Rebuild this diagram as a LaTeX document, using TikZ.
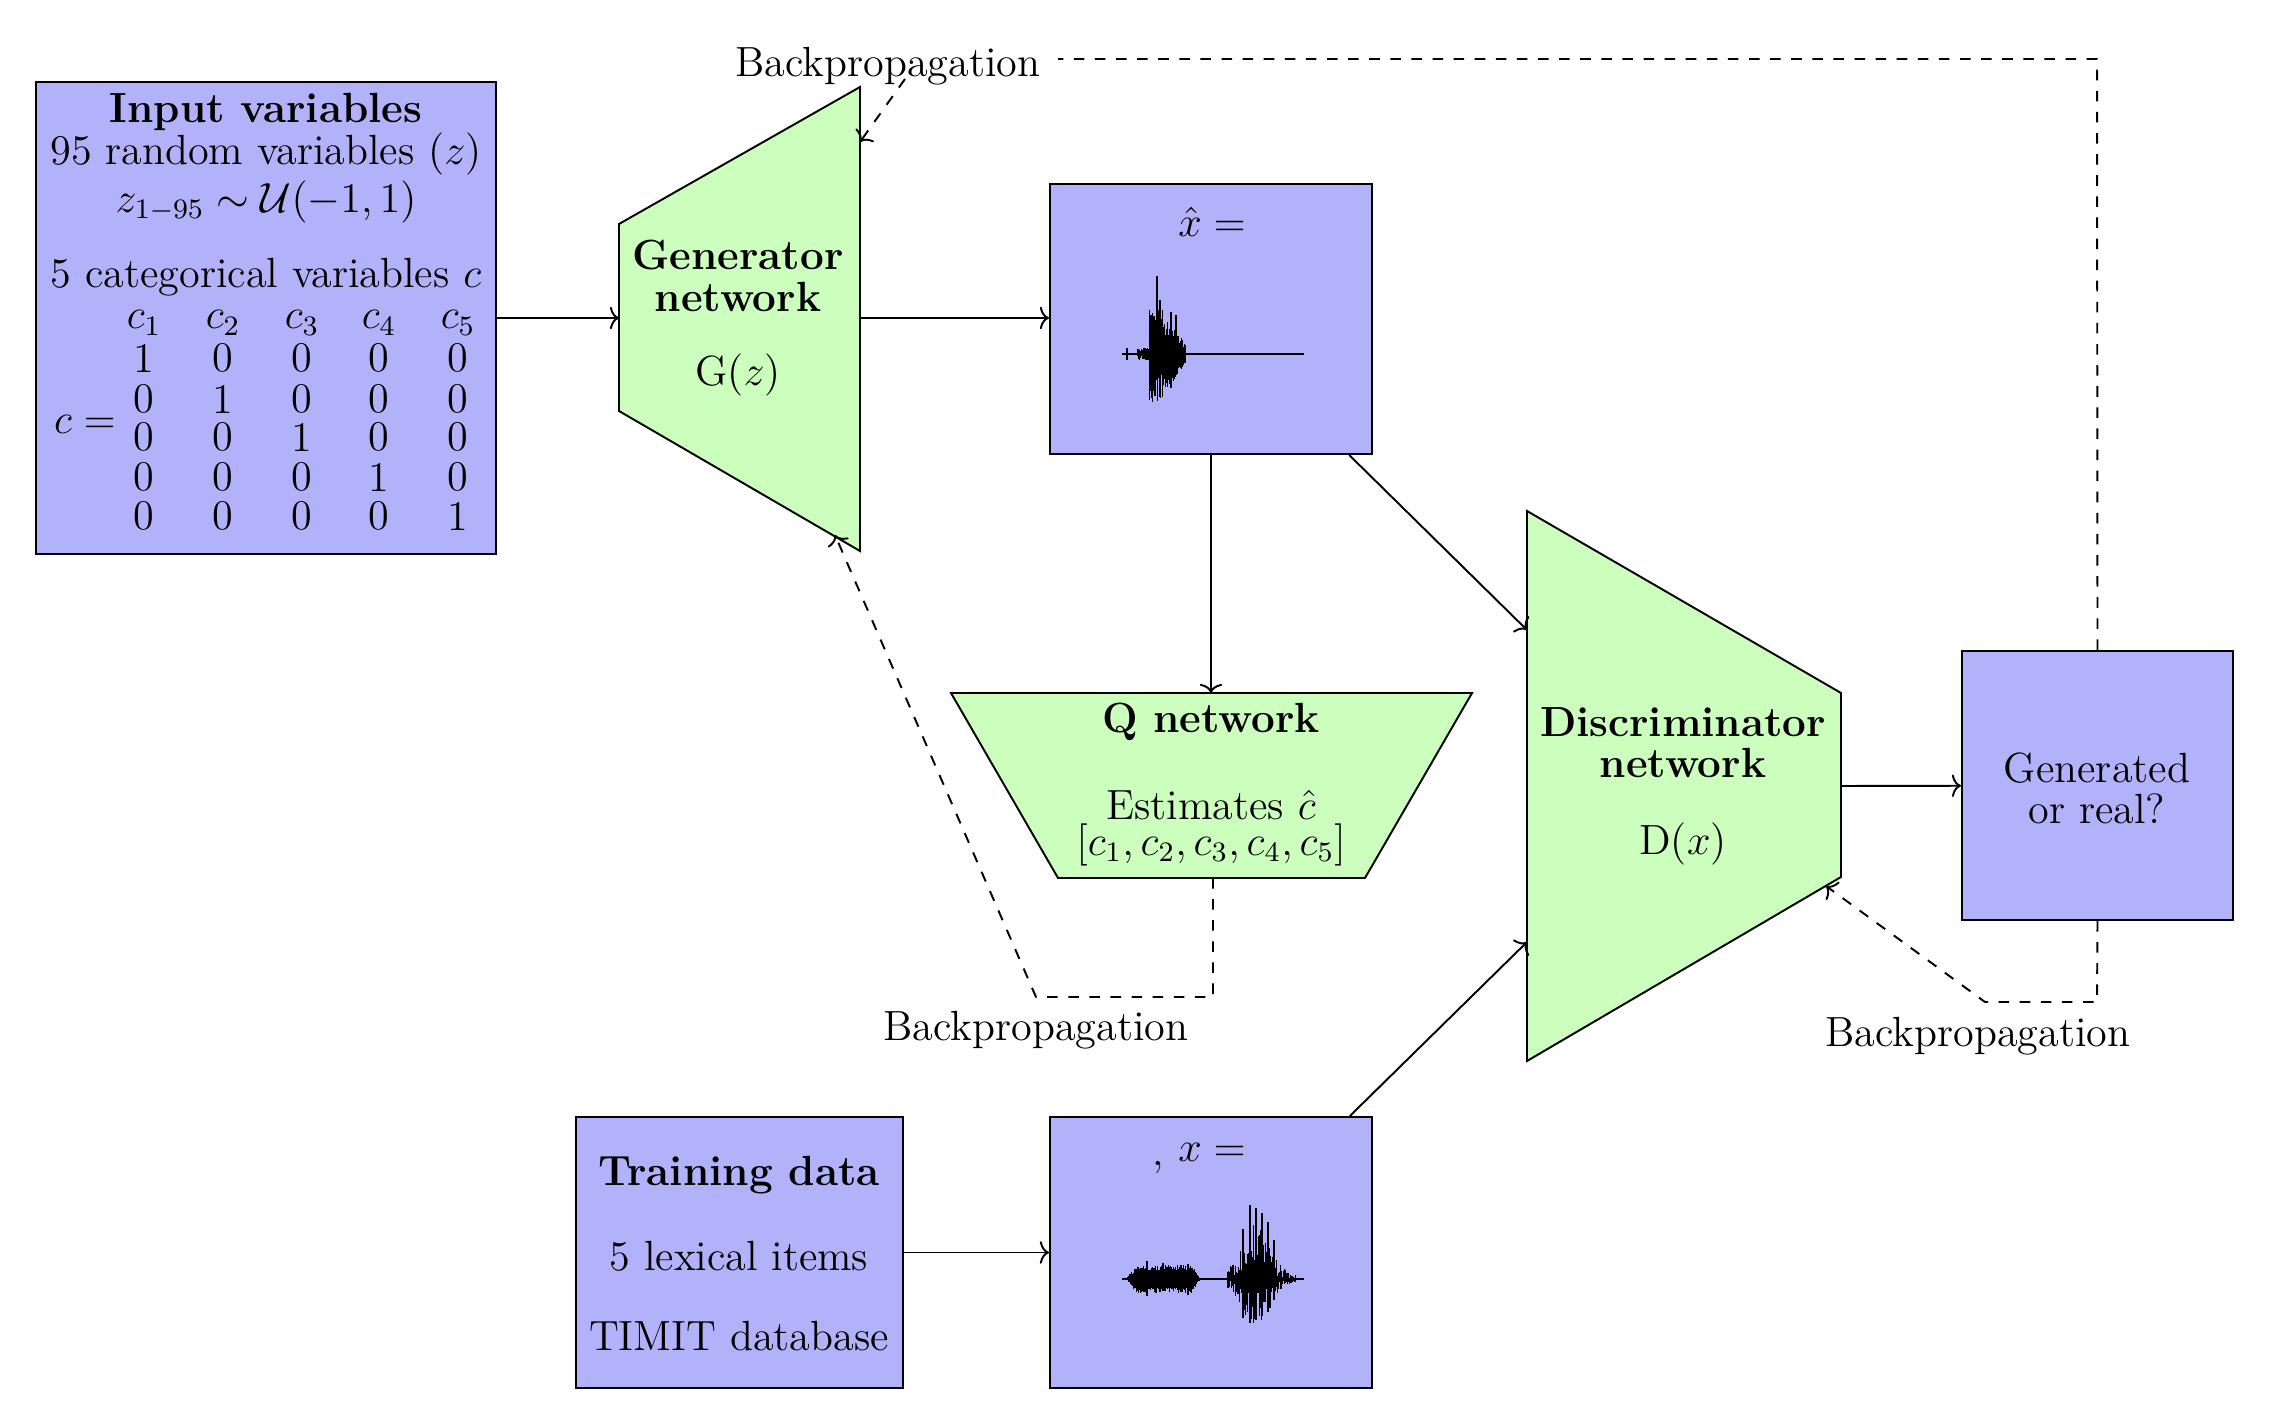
\RequirePackage{fix-cm}
\documentclass[tikz,border=0pt]{standalone}
\usepackage{amsmath}
\usetikzlibrary{arrows.meta}
\definecolor{boxblue}{RGB}{178,178,250}
\definecolor{netgreen}{RGB}{204,255,190}
\begin{document}
\begin{tikzpicture}[x=0.01cm,y=-0.01cm,
  txt/.style={font=\fontsize{12}{14.4}\selectfont, inner sep=0pt},
  btxt/.style={txt, font=\fontsize{12}{14.4}\selectfont\bfseries},
  bx/.style={draw, fill=boxblue, inner sep=0pt, line width=0.55pt},
  net/.style={draw, fill=netgreen, line width=0.55pt},
  conn/.style={-{To[length=2.6pt,width=6.4pt]}, line width=0.55pt},
  bp/.style={dashed, line width=0.55pt},
  bpa/.style={bp, -{To[length=2.6pt,width=6.4pt]}},
  wave/.style={line width=0.3pt}]
\useasboundingbox (0,0) rectangle (2269,1425);

% ---- boxes
\node[bx, minimum width=4.60cm, minimum height=4.72cm] (inp) at (266,318) {};
\node[bx, minimum width=3.22cm, minimum height=2.70cm] (xhat) at (1211,319) {};
\node[bx, minimum width=3.22cm, minimum height=2.71cm] (xreal) at (1211,1252.5) {};
\node[bx, minimum width=3.27cm, minimum height=2.71cm] (train) at (739.5,1252.5) {};
\node[bx, minimum width=2.71cm, minimum height=2.69cm] (gen) at (2097.5,785.5) {};

% ---- networks
\draw[net] (619,224) -- (860,87) -- (860,551) -- (619,411) -- cycle;
\coordinate (Gin) at (619,318);
\coordinate (Gout) at (860,318);
\coordinate (Gbp1) at (860,142);
\coordinate (Gbp2) at (835,535);
\draw[net] (951,693) -- (1472,693) -- (1365,878) -- (1058,878) -- cycle;
\coordinate (Qtop) at (1211,693);
\coordinate (Qbot) at (1213,878);
\draw[net] (1527,511) -- (1841,693) -- (1841,877) -- (1527,1061) -- cycle;
\coordinate (Din1) at (1527,630);
\coordinate (Din2) at (1527,942);
\coordinate (Dout) at (1841,786);
\coordinate (Dbp) at (1826,886);

% ---- input text
\node[btxt] (t1) at (266,112) {Input variables};
\node[txt] (t2) at (266,154) {95 random variables ($z$)};
\node[txt] (t3) at (266,202) {$z_{1-95}\sim\mathcal{U}(-1,1)$};
\node[txt] (t4) at (266,277) {5 categorical variables $c$};
\node[txt] (ceq) at (85,424) {$c=$};
\foreach \j/\cx in {1/144,2/223,3/302,4/379,5/458}{
  \node[txt] (h\j) at (\cx,323) {$c_{\j}$};
}
\foreach \r/\ry in {1/358,2/399,3/437,4/477,5/516}{
  \foreach \j/\cx in {1/144,2/223,3/302,4/379,5/458}{
    \ifnum\r=\j
      \node[txt] (m\r\j) at (\cx,\ry) {1};
    \else
      \node[txt] (m\r\j) at (\cx,\ry) {0};
    \fi
  }
}

% ---- network texts
\node[btxt] (g1) at (738,255) {Generator};
\node[btxt] (g2) at (738,297) {network};
\node[txt] (g3) at (738,375) {G($z$)};
\node[btxt] (q1) at (1211,722) {Q network};
\node[txt] (q2) at (1211,805) {Estimates $\hat{c}$};
\node[txt] (q3) at (1211,845) {$[c_1,c_2,c_3,c_4,c_5]$};
\node[btxt] (d1) at (1683,722) {Discriminator};
\node[btxt] (d2) at (1683,763) {network};
\node[txt] (d3) at (1683,844) {D($x$)};
\node[txt] (o1) at (2097,768) {Generated};
\node[txt] (o2) at (2097,809) {or real?};
\node[btxt] (tr1) at (739,1175) {Training data};
\node[txt] (tr2) at (739,1256) {5 lexical items};
\node[txt] (tr3) at (739,1336) {TIMIT database};
\node[txt] (xl1) at (1212,222) {$\hat{x} =$};
\node[txt] (xl2) at (1212,1152) {$x =$};
\node[txt] (cm) at (1158,1168) {,};

% ---- waveforms
\pgfmathsetseed{7}
\draw[wave] (1122,354) -- (1304,354);
\draw[wave] (1127,348) -- (1127,360);
\foreach \i in {0,...,140}{
  \pgfmathsetmacro\xx{1138+\i*0.34}
  \pgfmathsetmacro\env{(\xx<1149)?6:((\xx<1163)?48:(10+30*(1186-\xx)/23))}
  \pgfmathsetmacro\up{\env*(0.2+0.8*rnd)}
  \pgfmathsetmacro\dn{\env*(0.2+0.8*rnd)}
  \draw[wave] (\xx,354-\up) -- (\xx,354+\dn);
}
\draw[wave] (1157,276) -- (1157,380);
\draw[wave] (1160,300) -- (1160,397);
\draw[wave] (1171,312) -- (1171,388);
\draw[wave] (1176,315) -- (1176,375);

\draw[wave] (1122,1279) -- (1304,1279);
\foreach \i in {0,...,200}{
  \pgfmathsetmacro\xx{1127+\i*0.36}
  \pgfmathsetmacro\env{13*min(1,(\xx-1127)/10)*min(1,(1200-\xx)/8)+1}
  \pgfmathsetmacro\up{\env*(0.4+0.6*rnd)}
  \pgfmathsetmacro\dn{\env*(0.4+0.6*rnd)}
  \draw[wave] (\xx,1279-\up) -- (\xx,1279+\dn);
}
\draw[wave] (1147,1261) -- (1147,1296);
\draw[wave] (1163,1263) -- (1163,1290);
\draw[wave] (1188,1264) -- (1188,1295);
\foreach \i in {0,...,80}{
  \pgfmathsetmacro\xx{1228+\i*0.84}
  \pgfmathsetmacro\env{52*exp(-((\xx-1256)/20)^2)+3}
  \pgfmathsetmacro\up{\env*(0.15+0.85*rnd)}
  \pgfmathsetmacro\dn{0.85*\env*(0.15+0.85*rnd)}
  \draw[wave] (\xx,1279-\up) -- (\xx,1279+\dn);
}
\foreach \i in {0,...,60}{
  \pgfmathsetmacro\xx{1232+\i*0.9}
  \pgfmathsetmacro\env{18*exp(-((\xx-1254)/16)^2)+2}
  \pgfmathsetmacro\up{\env*(0.5+0.5*rnd)}
  \pgfmathsetmacro\dn{\env*(0.5+0.5*rnd)}
  \draw[wave] (\xx,1279-\up) -- (\xx,1279+\dn);
}
\draw[wave] (1243,1229) -- (1243,1318);
\draw[wave] (1250,1205) -- (1250,1323);
\draw[wave] (1256,1208) -- (1256,1320);
\draw[wave] (1262,1213) -- (1262,1316);
\draw[wave] (1268,1222) -- (1268,1312);
\draw[wave] (1274,1240) -- (1274,1300);

% ---- solid connectors
\draw[conn] (inp.east |- Gin) -- (Gin);
\draw[conn] (Gout) -- (xhat.west |- Gout);
\draw[conn] (xhat) -- (Qtop);
\draw[conn] (xhat) -- (Din1);
\draw[conn] (Dout) -- (gen);
\draw[conn] (train) -- (xreal);
\draw[conn] (xreal) -- (Din2);

% ---- backpropagation
\node[txt] (bpA) at (888,66) {Backpropagation};
\node[txt] (bpB) at (1036,1030) {Backpropagation};
\node[txt] (bpC) at (1978,1036) {Backpropagation};
\coordinate (tc1) at (2097,59);
\coordinate (tc2) at (1058,59);
\coordinate (tc3) at (905,79);
\draw[bp] (gen.north) -- (tc1) -- (tc2);
\draw[bpa] (tc3) -- (Gbp1);
\coordinate (mc1) at (1213,997);
\coordinate (mc2) at (1036,997);
\draw[bpa] (Qbot) -- (mc1) -- (mc2) -- (Gbp2);
\coordinate (rc1) at (2097,1002);
\coordinate (rc2) at (1985,1002);
\draw[bpa] (gen.south) -- (rc1) -- (rc2) -- (Dbp);
\end{tikzpicture}
\end{document}
